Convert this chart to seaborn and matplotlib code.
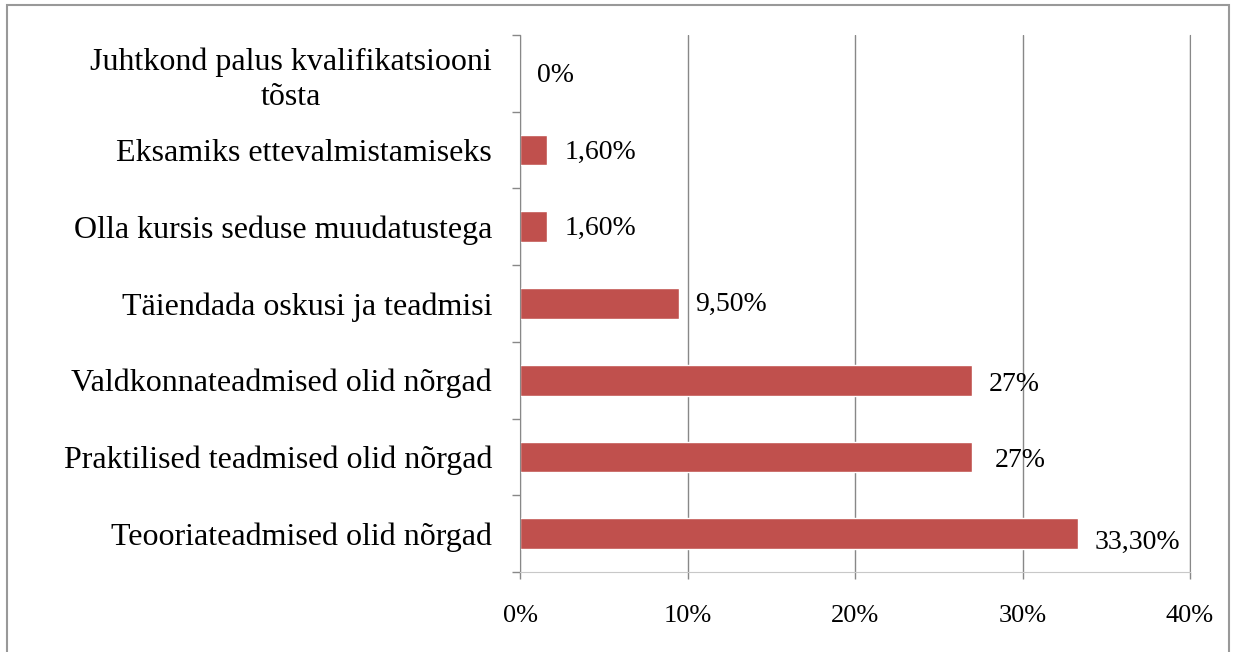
import numpy as np
import pandas as pd
import seaborn as sns
import matplotlib.pyplot as plt
from matplotlib.patches import Rectangle

reasons = [
    "Juhtkond palus kvalifikatsiooni\ntõsta",
    "Eksamiks ettevalmistamiseks",
    "Olla kursis seduse muudatustega",
    "Täiendada oskusi ja teadmisi",
    "Valdkonnateadmised olid nõrgad",
    "Praktilised teadmised olid nõrgad",
    "Teooriateadmised olid nõrgad",
]
shares = [0, 1.6, 1.6, 9.5, 27, 27, 33.3]
value_labels = ["0%", "1,60%", "1,60%", "9,50%", "27%", "27%", "33,30%"]
x_ticks = [0, 10, 20, 30, 40]

sns.set_style("white")
plt.rcParams['font.family'] = ['Liberation Serif', 'DejaVu Serif']
plt.rcParams['text.color'] = 'black'
plt.rcParams['xtick.color'] = '#888888'
plt.rcParams['ytick.color'] = '#888888'
plt.rcParams['xtick.labelcolor'] = 'black'
plt.rcParams['ytick.labelcolor'] = 'black'

df = pd.DataFrame({"reason": reasons, "share": shares})

fig = plt.figure(figsize=(12.35, 6.52), dpi=100)
ax = fig.add_axes([520 / 1235, 1 - 572 / 652, 670 / 1235, 537 / 652])

sns.barplot(data=df, x="share", y="reason", orient="h", color="#C0504D",
            saturation=1, width=0.4, ax=ax)

ax.set_xlim(0, 40)
ax.set_ylim(len(reasons) - 0.5, -0.5)
ax.set_xticks(x_ticks)
ax.set_xticklabels([f"{t}%" for t in x_ticks], fontsize=19)
ax.tick_params(axis="x", bottom=True, length=5, width=1, pad=19, direction="out")
ax.grid(axis="x", color="#888888", linewidth=1)
ax.set_axisbelow(True)

# category labels without ticks, boundary ticks as minor ticks
ax.set_yticks(range(len(reasons)))
ax.set_yticklabels(reasons, fontsize=23)
ax.tick_params(axis="y", which="major", left=False, length=0, pad=20)
ax.set_yticks(np.arange(-0.5, len(reasons), 1), minor=True)
ax.tick_params(axis="y", which="minor", left=True, length=6, width=1, direction="out")
ax.set_xlabel("")
ax.set_ylabel("")

ax.spines["top"].set_visible(False)
ax.spines["right"].set_color("#888888")
ax.spines["left"].set_color("#888888")
ax.spines["bottom"].set_color("#c8c8c8")

label_dx = [17, 18, 18, 16, 16, 22, 17]
label_dy = [-2, -2, -2, -1, -4, -4, -9]
for i, (v, lab) in enumerate(zip(shares, value_labels)):
    ax.annotate(lab, (v, i), xytext=(label_dx[i], label_dy[i]),
                textcoords="offset pixels", va="center", ha="left", fontsize=20)

fig.patches.append(Rectangle((7 / 1235, -0.1), 1222 / 1235, 1.1 - 5 / 652,
                             transform=fig.transFigure, fill=False,
                             edgecolor="#999999", linewidth=1.5))

# two-line label centered like the original
fig.canvas.draw()
for tick in ax.yaxis.get_major_ticks():
    tick.label1.set_multialignment("center")
    tick.label1.set_linespacing(1.25)

fig.savefig("out.png", dpi=100)
